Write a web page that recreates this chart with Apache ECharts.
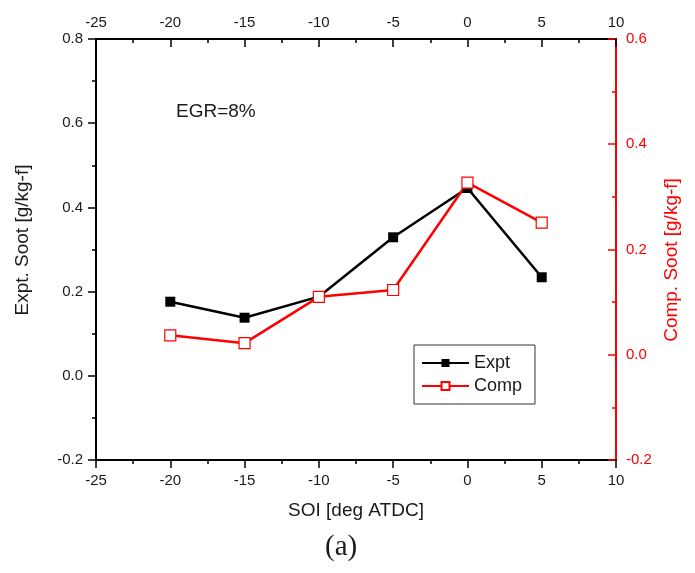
<!DOCTYPE html>
<html>
<head>
<meta charset="utf-8">
<script src="https://cdn.jsdelivr.net/npm/echarts@6/dist/echarts.min.js"></script>
<style>
  html, body { margin: 0; padding: 0; background: #fff; }
  #chart { width: 695px; height: 573px; }
</style>
</head>
<body>
<div id="chart"></div>
<script>
// Start of injection, deg ATDC
const soi = [-20, -15, -10, -5, 0, 5];
// Measured soot, g/kg-fuel (left axis)
const exptSoot = [0.176, 0.138, 0.188, 0.329, 0.446, 0.234];
// Computed soot, g/kg-fuel (right axis)
const compSoot = [0.037, 0.022, 0.110, 0.123, 0.327, 0.251];

const xRange = { min: -25, max: 10, interval: 5 };
const leftRange = { min: -0.2, max: 0.8, interval: 0.2 };
const rightRange = { min: -0.2, max: 0.6, interval: 0.2 };

const FONT = 'Liberation Sans, Arial, sans-serif';
const RED = '#ff0000';
const INK = '#1a1a1a';

const pairs = (xs, ys) => xs.map((x, i) => [x, ys[i]]);

const tickStyle = color => ({ color: color, width: 1.5 });

const xCommon = {
  type: 'value',
  min: xRange.min, max: xRange.max, interval: xRange.interval,
  splitLine: { show: false },
  axisLine: { show: true, onZero: false, lineStyle: { color: '#000', width: 2 } },
  axisTick: { show: true, length: 8, lineStyle: tickStyle('#000') },
  minorTick: { show: true, splitNumber: 2, length: 4, lineStyle: tickStyle('#000') },
  axisLabel: { color: INK, fontFamily: FONT, fontSize: 15, margin: 13 }
};

const chart = echarts.init(document.getElementById('chart'));
chart.setOption({
  backgroundColor: '#fff',
  animation: false,
  grid: { left: 96, right: 79, top: 39, bottom: 113 },
  xAxis: [
    Object.assign({}, xCommon, {
      position: 'bottom',
      name: 'SOI [deg ATDC]',
      nameLocation: 'middle',
      nameGap: 41,
      nameTextStyle: { color: INK, fontFamily: FONT, fontSize: 19 }
    }),
    Object.assign({}, xCommon, {
      position: 'top',
      axisTick: Object.assign({}, xCommon.axisTick, { inside: true }),
      axisLabel: Object.assign({}, xCommon.axisLabel, { margin: 9 })
    })
  ],
  yAxis: [
    {
      type: 'value', position: 'left',
      min: leftRange.min, max: leftRange.max, interval: leftRange.interval,
      splitLine: { show: false },
      axisLine: { show: true, onZero: false, lineStyle: { color: '#000', width: 2 } },
      axisTick: { show: true, length: 8, lineStyle: tickStyle('#000') },
      minorTick: { show: true, splitNumber: 2, length: 4, lineStyle: tickStyle('#000') },
      axisLabel: { color: INK, fontFamily: FONT, fontSize: 15, margin: 13,
        formatter: v => v.toFixed(1) }
    },
    {
      type: 'value', position: 'right',
      min: rightRange.min, max: rightRange.max, interval: rightRange.interval,
      splitLine: { show: false },
      axisLine: { show: true, onZero: false, lineStyle: { color: RED, width: 2 } },
      axisTick: { show: true, inside: true, length: 8, lineStyle: tickStyle(RED) },
      minorTick: { show: true, splitNumber: 2, length: 4, lineStyle: tickStyle(RED) },
      axisLabel: { color: RED, fontFamily: FONT, fontSize: 15, margin: 10,
        formatter: v => v.toFixed(1) }
    }
  ],
  legend: {
    left: 414, top: 345,
    orient: 'vertical',
    itemWidth: 47, itemHeight: 10, itemGap: 5,
    padding: [9, 13, 9, 7],
    borderColor: '#333', borderWidth: 1,
    textStyle: { color: INK, fontFamily: FONT, fontSize: 18 },
    data: ['Expt', 'Comp']
  },
  series: [
    {
      name: 'Expt', type: 'line',
      xAxisIndex: 0, yAxisIndex: 0,
      data: pairs(soi, exptSoot),
      symbol: 'rect', symbolSize: 10,
      lineStyle: { color: '#000', width: 2.5 },
      itemStyle: { color: '#000', borderColor: '#000', borderWidth: 0 }
    },
    {
      name: 'Comp', type: 'line',
      xAxisIndex: 0, yAxisIndex: 1,
      data: pairs(soi, compSoot),
      symbol: 'rect', symbolSize: 11,
      lineStyle: { color: RED, width: 2.5 },
      itemStyle: { color: '#fff', borderColor: RED, borderWidth: 1.2 }
    }
  ],
  graphic: [
    // vertical axis titles
    { type: 'text', x: 23, y: 240, rotation: Math.PI / 2,
      style: { text: 'Expt. Soot [g/kg-f]', fill: INK, font: '19px ' + FONT,
        align: 'center', verticalAlign: 'middle' } },
    { type: 'text', x: 672, y: 260, rotation: Math.PI / 2,
      style: { text: 'Comp. Soot [g/kg-f]', fill: RED, font: '19px ' + FONT,
        align: 'center', verticalAlign: 'middle' } },
    { type: 'text', left: 176, top: 102,
      style: { text: 'EGR=8%', fill: INK, font: '19px ' + FONT } },
    { type: 'text', left: 325, top: 533,
      style: { text: '(a)', fill: INK, font: '29px Liberation Serif, Times New Roman, serif' } }
  ]
});
</script>
</body>
</html>
